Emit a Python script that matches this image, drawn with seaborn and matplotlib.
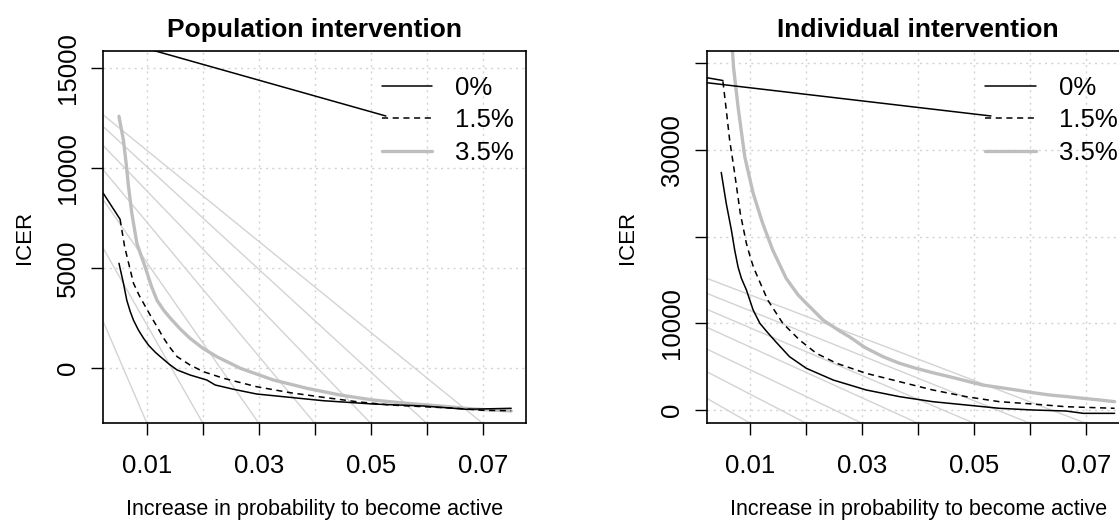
import matplotlib
matplotlib.use("Agg")
import matplotlib.pyplot as plt
from matplotlib.lines import Line2D
import seaborn as sns
import numpy as np

# ---------------- data ----------------
series_labels = ["0%", "1.5%", "3.5%"]
x_ticks = [0.01, 0.02, 0.03, 0.04, 0.05, 0.06, 0.07]
x_ticklabels = ["0.01", "", "0.03", "", "0.05", "", "0.07"]

# Population intervention
pop_x0 = [0.0050, 0.0058, 0.0064, 0.0070, 0.0076, 0.0085, 0.0094, 0.0103, 0.0115, 0.0124, 0.0140, 0.0154,
          0.0177, 0.0207, 0.0222, 0.0255, 0.0296, 0.0344, 0.0415, 0.0504, 0.0594, 0.0671, 0.0751]
pop_y0 = [5250, 4250, 3400, 2850, 2400, 1900, 1500, 1150, 800, 580, 200, -85,
          -335, -585, -835, -1050, -1285, -1420, -1620, -1785, -1885, -2050, -2000]
pop_x15 = [0.0052, 0.0060, 0.0066, 0.0076, 0.0086, 0.0094, 0.0105, 0.0118, 0.0130, 0.0140, 0.0154, 0.0177,
           0.0201, 0.0237, 0.0296, 0.0356, 0.0415, 0.0475, 0.0534, 0.0594, 0.0653, 0.0700, 0.0751]
pop_y15 = [7450, 6100, 5400, 4250, 3650, 3250, 2700, 2080, 1500, 1080, 580, 165,
           -170, -500, -920, -1220, -1450, -1670, -1835, -1920, -2000, -2100, -2120]
pop_x35 = [0.0050, 0.0058, 0.0063, 0.0067, 0.0073, 0.0082, 0.0090, 0.0097, 0.0108, 0.0118, 0.0130, 0.0142,
           0.0160, 0.0177, 0.0200, 0.0225, 0.0267, 0.0326, 0.0386, 0.0445, 0.0504, 0.0564, 0.0623, 0.0683, 0.0751]
pop_y35 = [12600, 11400, 10200, 9100, 7750, 6250, 5600, 5050, 4100, 3400, 2900, 2500,
           1950, 1500, 1000, 580, 0, -585, -1000, -1335, -1585, -1750, -1885, -2035, -2135]
pop_yticks = [0, 5000, 10000, 15000]
pop_yticklabels = ["0", "5000", "10000", "15000"]
pop_ylim = (-2750, 15880)
pop_diag_y0 = [2330, 6000, 8415, 9915, 11130, 12080, 12665]      # value at left edge
pop_diag_x1 = [0.01, 0.02, 0.03, 0.04, 0.05, 0.06, 0.07]          # x where it meets the bottom
pop_stray_short = ([0.0022, 0.0052], [8750, 7450])
pop_stray_long = ([0.0022, 0.0527], [16600, 12615])

# Individual intervention
ind_x0 = [0.0048, 0.0057, 0.0066, 0.0072, 0.0078, 0.0084, 0.0093, 0.0105, 0.0117, 0.0130, 0.0145, 0.0170,
          0.0200, 0.0248, 0.0307, 0.0367, 0.0426, 0.0486, 0.0545, 0.0605, 0.0664, 0.0695, 0.0751]
ind_y0 = [27400, 23800, 20800, 18450, 16500, 15190, 13840, 11530, 10000, 9000, 7900, 6150,
          4810, 3460, 2310, 1535, 960, 577, 196, 0, -115, -385, -385]
ind_x15 = [0.0051, 0.0057, 0.0063, 0.0072, 0.0082, 0.0093, 0.0100, 0.0106, 0.0114, 0.0131, 0.0158, 0.0188,
           0.0218, 0.0254, 0.0307, 0.0367, 0.0426, 0.0486, 0.0545, 0.0605, 0.0664, 0.0751]
ind_y15 = [37900, 34600, 31140, 27300, 22690, 19200, 17600, 16400, 15200, 12690, 10000, 8070,
           6540, 5390, 4230, 3260, 2310, 1535, 960, 690, 380, 196]
ind_x35 = [0.0062, 0.0070, 0.0078, 0.0090, 0.0105, 0.0122, 0.0140, 0.0164, 0.0185, 0.0200, 0.0230, 0.0260,
           0.0277, 0.0305, 0.0337, 0.0366, 0.0396, 0.0426, 0.0456, 0.0486, 0.0515, 0.0545, 0.0575, 0.0605,
           0.0635, 0.0665, 0.0694, 0.0725, 0.0751]
ind_y35 = [47500, 39500, 34980, 29220, 25000, 21530, 18450, 15190, 13300, 12300, 10380, 9100,
           8450, 7200, 6150, 5400, 4810, 4300, 3840, 3350, 2880, 2600, 2310, 2000,
           1730, 1550, 1350, 1150, 960]
ind_yticks = [0, 10000, 20000, 30000, 40000]
ind_yticklabels = ["0", "10000", "", "30000", ""]
ind_ylim = (-1534, 41440)
ind_diag_y0 = [1350, 4420, 7035, 9540, 11615, 13460, 15190]
ind_diag_x1 = [0.01, 0.02, 0.03, 0.04, 0.05, 0.06, 0.07]
ind_stray_short = ([0.0022, 0.0051], [38330, 38000])
ind_stray_long = ([0.0022, 0.0530], [37750, 33910])

xlim = (0.0022, 0.0778)

# ---------------- styling ----------------
sns.set_theme(style="white")
plt.rcParams['font.family'] = ['Liberation Sans', 'DejaVu Sans']

BLACK = "#000000"
GREY = "#BEBEBE"
LIGHT = "#D3D3D3"
DASH = (0, (4, 3))

fig = plt.figure(figsize=(11.19, 5.21), dpi=100)
W, H = 1119.0, 521.0
ax_w, ax_h = 423.0 / W, 372.6 / H
ax_b = (H - 423.3) / H
axL = fig.add_axes([103.3 / W, ax_b, ax_w, ax_h])
axR = fig.add_axes([706.7 / W, ax_b, ax_w, ax_h])


def draw_panel(ax, title, curves, ylim, yticks, yticklabels, diag_y0, diag_x1, stray_short, stray_long):
    ax.set_xlim(*xlim)
    ax.set_ylim(*ylim)
    # dotted grid at tick positions
    for xv in x_ticks:
        ax.axvline(xv, color=LIGHT, lw=1.0, ls=(0, (1.5, 3)), zorder=0)
    for yv in yticks:
        ax.axhline(yv, color=LIGHT, lw=1.0, ls=(0, (1.5, 3)), zorder=0)
    # fan of light diagonal lines
    for y0, x1 in zip(diag_y0, diag_x1):
        sns.lineplot(x=[xlim[0], x1], y=[y0, ylim[0]], ax=ax, color=LIGHT, lw=1.0,
                     estimator=None, sort=False, zorder=1)
    # stray segments
    sns.lineplot(x=stray_short[0], y=stray_short[1], ax=ax, color=BLACK, lw=1.1,
                 estimator=None, sort=False, zorder=3)
    sns.lineplot(x=stray_long[0], y=stray_long[1], ax=ax, color=BLACK, lw=1.1,
                 estimator=None, sort=False, zorder=3)
    # curves
    (x0, y0), (x15, y15), (x35, y35) = curves
    sns.lineplot(x=x35, y=y35, ax=ax, color=GREY, lw=2.4, estimator=None, sort=False, zorder=2)
    sns.lineplot(x=x15, y=y15, ax=ax, color=BLACK, lw=1.1, linestyle=DASH,
                 estimator=None, sort=False, zorder=3)
    sns.lineplot(x=x0, y=y0, ax=ax, color=BLACK, lw=1.1, estimator=None, sort=False, zorder=3)

    ax.set_xticks(x_ticks)
    ax.set_xticklabels(x_ticklabels)
    ax.set_yticks(yticks)
    ax.set_yticklabels(yticklabels)
    ax.tick_params(axis='both', direction='out', length=8.6, width=1.0, color=BLACK,
                   labelsize=18.5, labelcolor=BLACK, bottom=True, left=True)
    ax.tick_params(axis='x', pad=13.5)
    ax.tick_params(axis='y', pad=8, labelrotation=90)
    for lab in ax.get_yticklabels():
        lab.set_va('center')
    for sp in ax.spines.values():
        sp.set_visible(True)
        sp.set_color(BLACK)
        sp.set_linewidth(1.2)

    ax.set_title(title, fontsize=19, fontweight='bold', pad=10, color=BLACK)
    ax.set_xlabel("Increase in probability to become active", fontsize=15.5, color=BLACK, va='center')
    ax.xaxis.set_label_coords(0.5, -0.2315)
    ax.set_ylabel("ICER", fontsize=16, color=BLACK, va='center')
    ax.yaxis.set_label_coords(-79.0 / 423.0, 0.5)

    handles = [Line2D([], [], color=BLACK, lw=1.1),
               Line2D([], [], color=BLACK, lw=1.1, linestyle=DASH),
               Line2D([], [], color=GREY, lw=2.4)]
    leg = ax.legend(handles, series_labels, loc='upper left', bbox_to_anchor=(0.659, 0.9326),
                    frameon=False, fontsize=18.5, borderpad=0, borderaxespad=0,
                    handlelength=1.95, handletextpad=0.9, labelspacing=0.33)
    for t in leg.get_texts():
        t.set_color(BLACK)


draw_panel(axL, "Population intervention",
           [(pop_x0, pop_y0), (pop_x15, pop_y15), (pop_x35, pop_y35)],
           pop_ylim, pop_yticks, pop_yticklabels, pop_diag_y0, pop_diag_x1,
           pop_stray_short, pop_stray_long)
draw_panel(axR, "Individual intervention",
           [(ind_x0, ind_y0), (ind_x15, ind_y15), (ind_x35, ind_y35)],
           ind_ylim, ind_yticks, ind_yticklabels, ind_diag_y0, ind_diag_x1,
           ind_stray_short, ind_stray_long)

fig.savefig("out.png", dpi=100, facecolor="white")
